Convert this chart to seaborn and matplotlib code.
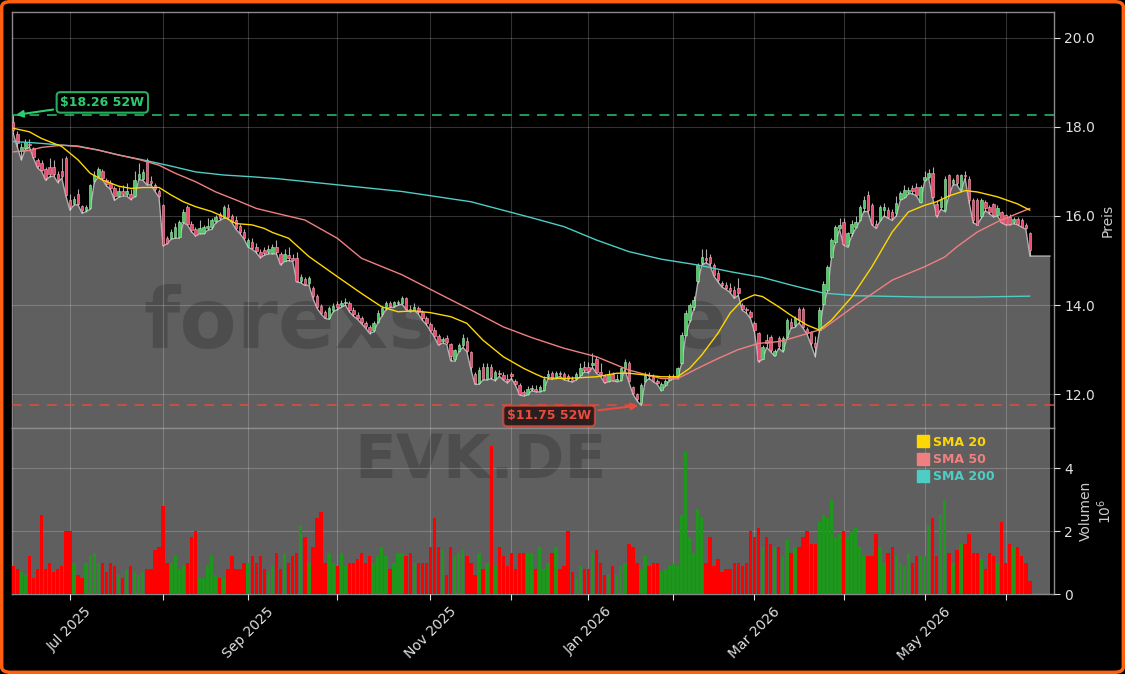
import numpy as np
import pandas as pd
import matplotlib
matplotlib.use("Agg")
import matplotlib.pyplot as plt
import seaborn as sns
from matplotlib.patches import FancyBboxPatch
from matplotlib.lines import Line2D

sns.set_theme(style="dark")
plt.rcParams["font.family"] = ["DejaVu Sans"]

# ---------------- data ----------------
start_date = "2025-06-11"
holidays = ["2025-12-24", "2025-12-25", "2025-12-26", "2025-12-31",
            "2026-01-01", "2026-04-03", "2026-04-06", "2026-05-01"]

open_ = [18.10,17.85,17.45,17.52,17.62,17.52,17.25,17.20,17.05,17.10,
         17.10,16.95,17.00,17.30,16.35,16.30,16.50,16.22,16.13,16.18,
         16.78,16.90,17.00,16.80,16.75,16.62,16.45,16.55,16.50,16.50,
         16.45,16.85,16.82,17.25,16.78,16.70,16.55,16.25,15.50,15.50,
         15.53,15.53,15.87,16.20,15.83,15.70,15.62,15.62,15.72,15.75,
         15.88,16.05,15.98,16.18,16.00,15.90,15.78,15.65,15.32,15.42,
         15.30,15.20,15.23,15.20,15.18,15.30,15.15,15.00,15.12,15.05,
         15.05,14.55,14.58,14.50,14.38,14.20,13.98,13.85,13.72,13.88,
         14.02,14.00,14.05,14.05,13.90,13.78,13.72,13.60,13.50,13.45,
         13.62,13.80,13.95,14.05,13.98,14.05,14.05,14.15,13.92,13.90,
         13.93,13.85,13.70,13.58,13.45,13.30,13.20,13.26,13.12,12.80,
         12.98,13.10,13.20,12.95,12.45,12.25,12.62,12.35,12.62,12.35,
         12.48,12.42,12.35,12.45,12.30,12.20,12.05,12.00,12.12,12.12,
         12.08,12.10,12.40,12.47,12.38,12.47,12.45,12.40,12.35,12.35,
         12.42,12.60,12.60,12.65,12.78,12.50,12.40,12.30,12.45,12.30,
         12.32,12.58,12.70,12.15,12.00,11.80,12.30,12.42,12.38,12.30,
         12.10,12.20,12.32,12.38,12.38,12.70,13.33,13.66,13.96,14.53,
         14.94,15.05,15.09,14.90,14.71,14.49,14.45,14.38,14.34,14.38,
         14.00,13.92,13.85,13.60,13.37,12.80,13.22,13.28,12.88,13.26,
         13.00,13.29,13.62,13.55,13.92,13.92,13.47,13.40,13.14,13.44,
         14.03,14.33,15.08,15.42,15.72,15.87,15.35,15.61,15.75,15.91,
         16.17,16.47,16.24,15.83,15.91,16.13,16.13,16.09,16.06,16.39,
         16.43,16.54,16.62,16.66,16.32,16.81,16.88,16.96,16.28,16.20,
         16.13,16.92,16.73,16.92,16.60,16.92,16.84,16.36,16.36,16.00,
         16.32,16.20,16.28,16.02,16.09,16.02,15.98,15.86,15.94,15.90,
         15.80,15.61]
high = [18.26,17.90,17.65,17.72,17.72,17.55,17.30,17.25,17.10,17.30,
        17.25,17.00,17.30,17.35,16.50,16.45,16.60,16.25,16.25,16.72,
        17.00,17.10,17.05,16.85,16.80,16.68,16.65,16.70,16.75,16.60,
        17.00,17.20,17.05,17.30,16.90,16.75,16.60,16.28,15.55,15.70,
        15.85,15.90,16.15,16.25,15.88,15.75,15.90,15.80,15.95,15.95,
        16.02,16.10,16.25,16.28,16.05,16.00,15.82,15.70,15.50,15.50,
        15.40,15.25,15.30,15.35,15.38,15.45,15.20,15.25,15.30,15.15,
        15.20,14.70,14.62,14.65,14.42,14.25,14.02,13.90,13.98,14.05,
        14.10,14.12,14.15,14.10,13.95,13.85,13.75,13.65,13.55,13.65,
        13.88,13.98,14.10,14.10,14.10,14.12,14.20,14.18,14.00,14.05,
        13.98,13.90,13.75,13.62,13.50,13.35,13.28,13.32,13.15,13.02,
        13.15,13.35,13.28,12.98,12.50,12.60,12.70,12.70,12.68,12.55,
        12.55,12.50,12.45,12.50,12.35,12.25,12.10,12.18,12.20,12.20,
        12.20,12.40,12.55,12.52,12.52,12.52,12.50,12.45,12.40,12.50,
        12.70,12.75,12.72,12.92,12.85,12.70,12.45,12.55,12.50,12.45,
        12.62,12.78,12.75,12.18,12.02,12.25,12.50,12.50,12.45,12.35,
        12.28,12.35,12.45,12.45,12.62,13.40,13.88,14.05,14.20,14.95,
        15.25,15.25,15.15,14.95,14.78,14.55,14.52,14.50,14.42,14.60,
        14.05,13.95,13.90,13.65,13.40,13.10,13.35,13.32,13.02,13.30,
        13.30,13.70,13.70,13.75,13.95,13.95,13.50,13.42,13.30,13.95,
        14.55,14.90,15.50,15.80,15.95,15.95,15.65,15.90,16.00,16.25,
        16.45,16.55,16.30,15.90,16.25,16.30,16.20,16.15,16.45,16.55,
        16.70,16.65,16.70,16.75,16.70,17.00,17.05,17.10,16.35,16.45,
        16.90,16.95,16.85,16.95,16.95,17.00,16.90,16.40,16.40,16.40,
        16.35,16.25,16.30,16.25,16.12,16.05,16.05,15.98,15.98,15.95,
        15.85,15.65]
low = [17.85,17.55,17.26,17.50,17.55,17.30,17.08,17.00,16.80,16.88,
       16.90,16.75,16.85,16.45,16.13,16.25,16.25,16.06,16.10,16.15,
       16.75,16.88,16.82,16.68,16.60,16.35,16.42,16.45,16.45,16.37,
       16.43,16.82,16.80,16.70,16.70,16.55,16.42,15.33,15.38,15.48,
       15.50,15.50,15.85,15.80,15.65,15.55,15.60,15.60,15.68,15.70,
       15.85,15.90,15.95,15.95,15.85,15.70,15.60,15.48,15.30,15.25,
       15.18,15.06,15.12,15.15,15.15,15.15,14.90,14.98,15.00,14.98,
       14.52,14.50,14.44,14.45,14.15,13.93,13.80,13.70,13.68,13.85,
       13.90,13.95,14.00,13.85,13.75,13.68,13.58,13.48,13.36,13.40,
       13.60,13.75,13.90,13.95,13.95,14.00,14.02,13.90,13.85,13.88,
       13.80,13.66,13.56,13.42,13.28,13.10,13.15,13.12,12.75,12.74,
       12.95,13.05,12.95,12.55,12.22,12.22,12.32,12.32,12.35,12.30,
       12.40,12.32,12.25,12.35,12.20,11.98,11.96,11.98,12.08,12.05,
       12.05,12.08,12.35,12.33,12.35,12.40,12.32,12.30,12.27,12.32,
       12.40,12.50,12.48,12.60,12.47,12.40,12.25,12.28,12.30,12.28,
       12.30,12.55,12.27,12.00,11.85,11.75,12.28,12.35,12.28,12.22,
       12.08,12.18,12.30,12.35,12.35,12.68,13.30,13.62,13.90,14.50,
       14.90,14.95,14.90,14.65,14.52,14.40,14.35,14.28,14.15,14.22,
       13.88,13.82,13.70,13.40,12.72,12.78,13.05,12.95,12.85,13.03,
       12.95,13.25,13.48,13.50,13.60,13.48,13.34,13.10,12.84,13.40,
       14.00,14.30,15.05,15.40,15.70,15.35,15.30,15.55,15.72,15.88,
       16.10,16.10,15.80,15.72,15.88,16.00,15.95,15.90,16.00,16.35,
       16.40,16.50,16.50,16.45,16.30,16.78,16.85,16.40,15.98,16.15,
       16.10,16.45,16.70,16.70,16.55,16.85,16.30,15.85,15.80,15.95,
       16.12,16.05,15.98,16.00,15.85,15.80,15.80,15.83,15.80,15.75,
       15.70,15.10]
close = [17.92,17.65,17.56,17.67,17.60,17.33,17.12,17.03,16.85,16.95,
         16.95,16.80,16.90,16.48,16.22,16.38,16.28,16.13,16.20,16.70,
         16.92,17.05,16.85,16.72,16.62,16.45,16.55,16.50,16.55,16.40,
         16.80,16.95,16.98,16.73,16.73,16.60,16.45,15.35,15.40,15.65,
         15.75,15.87,16.10,15.83,15.68,15.58,15.72,15.75,15.78,15.90,
         15.98,15.95,16.20,15.98,15.88,15.72,15.65,15.50,15.45,15.28,
         15.22,15.10,15.16,15.25,15.30,15.20,14.95,15.15,15.05,15.02,
         14.55,14.64,14.47,14.60,14.20,13.96,13.82,13.74,13.93,13.98,
         13.95,14.05,14.08,13.90,13.80,13.72,13.62,13.52,13.42,13.60,
         13.82,13.93,14.05,13.98,14.06,14.07,14.15,13.92,13.88,13.95,
         13.85,13.70,13.60,13.45,13.30,13.12,13.24,13.18,12.85,12.99,
         13.10,13.25,12.98,12.60,12.25,12.55,12.35,12.62,12.38,12.50,
         12.45,12.35,12.30,12.40,12.22,12.00,12.00,12.12,12.14,12.08,
         12.15,12.35,12.45,12.37,12.48,12.45,12.35,12.35,12.30,12.45,
         12.58,12.55,12.52,12.70,12.50,12.45,12.28,12.45,12.32,12.35,
         12.58,12.72,12.30,12.03,11.88,12.20,12.42,12.40,12.30,12.25,
         12.22,12.30,12.38,12.40,12.58,13.33,13.82,14.00,14.11,14.90,
         15.09,15.01,14.94,14.68,14.56,14.45,14.38,14.32,14.20,14.26,
         13.92,13.88,13.74,13.44,12.77,13.05,13.15,12.99,12.98,13.07,
         13.25,13.66,13.51,13.70,13.66,13.51,13.38,13.14,13.05,13.88,
         14.48,14.86,15.46,15.76,15.79,15.38,15.61,15.83,15.87,16.21,
         16.36,16.13,15.83,15.76,16.21,16.21,15.98,15.95,16.30,16.51,
         16.58,16.58,16.55,16.48,16.66,16.88,16.96,16.43,16.02,16.39,
         16.84,16.47,16.81,16.73,16.92,16.90,16.35,15.90,15.80,16.36,
         16.17,16.09,16.02,16.17,15.87,15.83,15.83,15.94,15.83,15.76,
         15.72,15.23]
volume_m = [0.9,0.8,0.7,0.6,1.2,0.5,0.8,2.5,0.8,1.0,
            0.7,0.8,0.9,2.0,2.0,1.0,0.6,0.5,1.0,1.2,
            1.3,1.0,1.0,0.7,1.0,0.9,0.6,0.5,0.8,0.9,
            0.7,0.6,0.7,0.8,0.8,1.4,1.5,2.8,1.0,1.0,
            1.2,0.8,0.9,1.0,1.8,2.0,0.5,0.5,0.9,1.2,
            0.6,0.5,0.5,0.8,1.2,0.8,0.8,1.0,1.0,1.2,
            1.0,1.2,0.8,0.7,0.9,1.3,0.8,1.3,1.0,1.2,
            1.3,2.2,1.8,1.0,1.5,2.4,2.6,1.0,1.3,1.0,
            0.9,1.3,0.9,1.0,1.0,1.1,1.3,1.0,1.2,1.0,
            1.2,1.5,1.2,0.8,1.0,1.3,1.3,1.2,1.3,1.0,
            1.0,1.0,1.0,1.5,2.4,1.5,1.4,0.6,1.5,1.2,
            1.3,1.4,1.2,1.0,0.6,1.3,0.8,1.0,4.7,0.9,
            1.5,1.2,0.9,1.3,0.8,1.3,1.3,1.3,1.3,0.8,
            1.5,0.8,1.0,1.3,1.5,0.8,0.9,2.0,0.7,0.5,
            0.9,0.8,0.8,1.3,1.4,1.0,0.6,0.6,0.9,0.6,
            0.9,1.0,1.6,1.5,1.0,0.8,1.2,0.9,1.0,1.0,
            0.7,0.8,0.9,1.0,0.9,2.5,4.5,1.8,1.3,2.7,
            2.4,1.0,1.8,0.9,1.1,0.7,0.8,0.8,1.0,1.0,
            0.9,1.0,2.0,1.8,2.1,1.5,1.8,1.6,1.5,1.5,
            1.2,1.7,1.3,1.5,1.5,1.8,2.0,1.6,1.6,2.3,
            2.5,2.4,3.0,1.8,1.9,2.0,1.8,2.0,2.1,1.5,
            1.2,1.2,1.2,1.9,1.5,1.0,1.3,1.5,1.2,1.0,
            0.9,1.3,1.0,1.2,1.2,1.2,2.2,2.4,1.2,2.5,
            3.0,1.3,1.0,1.4,1.6,1.6,1.9,1.3,1.3,1.1,
            0.8,1.3,1.2,1.0,2.3,1.0,1.6,1.5,1.5,1.2,
            1.0,0.4]

# moving averages (trading-day index, value)
sma20_day = [0,4,7,12,16,19,22,26,29,32,36,39,42,45,49,52,55,59,62,64,
             68,73,80,86,91,95,99,103,108,112,116,121,126,129,131,136,144,149,152,156,
             160,164,167,170,174,177,180,183,185,189,192,196,199,202,207,212,217,221,225,228,
             231,235,238,243,248,251]
sma20_val = [17.97,17.89,17.74,17.56,17.26,16.96,16.81,16.67,16.62,16.64,
             16.64,16.47,16.32,16.21,16.10,15.98,15.83,15.80,15.72,15.63,
             15.50,15.09,14.64,14.26,13.96,13.85,13.87,13.83,13.74,13.59,
             13.21,12.84,12.58,12.45,12.37,12.35,12.39,12.47,12.47,12.43,
             12.39,12.39,12.58,12.88,13.37,13.82,14.11,14.23,14.19,13.96,
             13.77,13.55,13.44,13.66,14.18,14.86,15.64,16.09,16.24,16.32,
             16.45,16.57,16.54,16.43,16.27,16.13]
sma50_day = [0,4,7,12,16,21,26,31,36,40,45,50,55,60,65,72,80,86,96,105,
             113,121,128,136,144,152,160,164,169,174,179,184,189,192,200,208,217,225,230,233,
             238,243,248,251]
sma50_val = [17.44,17.47,17.54,17.59,17.56,17.48,17.37,17.27,17.14,16.96,
             16.77,16.54,16.36,16.17,16.06,15.91,15.50,15.05,14.68,14.26,
             13.89,13.51,13.27,13.03,12.84,12.54,12.35,12.35,12.58,12.80,
             13.00,13.14,13.18,13.25,13.47,14.00,14.56,14.86,15.08,15.31,
             15.64,15.87,16.06,16.17]
sma200_day = [0,4,7,12,16,21,26,32,39,45,52,59,65,80,96,113,128,136,144,152,
              160,169,177,185,192,200,208,225,237,251]
sma200_val = [17.67,17.65,17.63,17.59,17.57,17.48,17.37,17.26,17.12,16.99,
              16.92,16.88,16.84,16.70,16.55,16.32,15.96,15.76,15.46,15.20,
              15.03,14.90,14.75,14.62,14.45,14.27,14.21,14.18,14.18,14.20]

high_52w = 18.26
low_52w = 11.75
ticker = "EVK.DE"
watermark = "forexsignale"

# ---------------- build frame ----------------
n = len(close)
future = 5
days = pd.bdate_range(start_date, periods=n + future + 20)
days = days[~days.isin(pd.to_datetime(holidays))][: n + future]
df = pd.DataFrame({"x": np.arange(n), "date": days[:n], "open": open_, "high": high,
                   "low": low, "close": close, "vol": volume_m})
up = df["close"] >= df["open"]

UP_C, DN_C = "#4fc765", "#ea4a6e"
UP_E, DN_E = "#a8efb4", "#ffa8bb"
VUP, VDN = "#1f971f", "#ff0000"
FILL = "#5f5f5f"
C20, C50, C200 = "#FFD700", "#F08080", "#4ECDC4"
GREEN_A, RED_A = "#2ecc71", "#e74c3c"

W, H = 1125, 674
fig = plt.figure(figsize=(W / 100, H / 100), dpi=100, facecolor="black")
ax = fig.add_axes([12 / W, 1 - 428 / H, 1042 / W, 416 / H])
axv = fig.add_axes([12 / W, 1 - 594 / H, 1042 / W, 166 / H], sharex=ax)

xlim = (-0.3, n + future - 0.05)
for a in (ax, axv):
    a.set_facecolor("black")
    for s in a.spines.values():
        s.set_color("#8a8a8a")
        s.set_linewidth(1.0)
    a.grid(True, color="white", alpha=0.2, lw=0.8)
    a.set_axisbelow(False)
    a.yaxis.tick_right()
    a.yaxis.set_label_position("right")
    a.tick_params(colors="#e0e0e0", labelsize=10, length=4, width=0.8,
                  direction="out", right=True, bottom=True, left=False)

# price area (filled below the lows, carried forward past the last bar)
xf = np.arange(n + future)
lowf = pd.Series(low + [np.nan] * future).ffill().values
ax.fill_between(xf, lowf, 0, color=FILL, zorder=1, lw=0)
sns.lineplot(x=xf, y=lowf, ax=ax, color="#b0b0b0", lw=1.0, zorder=2)

# watermark
ax.text(0.406, 0.25, watermark, transform=ax.transAxes, fontsize=60, fontweight="bold",
        color="black", alpha=0.18, ha="center", va="center", zorder=1.5)

# candles
ax.vlines(df["x"], df["low"], df["high"], color="#d8d8d8", lw=0.8, alpha=0.8, zorder=3)
body = (df["close"] - df["open"]).abs().clip(lower=0.02)
ax.bar(df["x"], body, bottom=df[["open", "close"]].min(axis=1), width=0.62,
       color=np.where(up, UP_C, DN_C), edgecolor=np.where(up, UP_E, DN_E),
       linewidth=0.4, zorder=4)

# SMAs
sns.lineplot(x=sma200_day, y=sma200_val, ax=ax, color=C200, lw=1.0, zorder=5)
sns.lineplot(x=sma50_day, y=sma50_val, ax=ax, color=C50, lw=1.0, zorder=5)
sns.lineplot(x=sma20_day, y=sma20_val, ax=ax, color=C20, lw=1.0, zorder=5)

# 52 week lines and labels
ax.axhline(high_52w, color=GREEN_A, ls=(0, (5, 4)), lw=1.4, alpha=0.75, zorder=5)
ax.axhline(low_52w, color=RED_A, ls=(0, (5, 4)), lw=1.4, alpha=0.75, zorder=5)
i_hi = int(np.argmax(high))
i_lo = int(np.argmin(low))
ax.annotate(f"${high_52w:.2f} 52W", xy=(i_hi, high_52w), xytext=(22, 18.55),
            color=GREEN_A, fontsize=9, fontweight="bold", ha="center", va="center",
            bbox=dict(boxstyle="round,pad=0.3", fc="black", ec=GREEN_A, lw=1.5, alpha=0.85),
            arrowprops=dict(arrowstyle="-|>", color=GREEN_A, lw=1.5, mutation_scale=10),
            zorder=8)
ax.annotate(f"${low_52w:.2f} 52W", xy=(i_lo, low_52w), xytext=(132.3, 11.51),
            color=RED_A, fontsize=9, fontweight="bold", ha="center", va="center",
            bbox=dict(boxstyle="round,pad=0.3", fc="#1a0808", ec=RED_A, lw=1.5, alpha=0.75),
            arrowprops=dict(arrowstyle="-|>", color=RED_A, lw=1.5, mutation_scale=10),
            zorder=8)

ax.set_xlim(*xlim)
ax.set_ylim(11.24, 20.58)
ax.set_yticks([12, 14, 16, 18, 20])
ax.set_yticklabels([f"{v:.1f}" for v in [12, 14, 16, 18, 20]])
ax.set_ylabel("Preis", color="#cccccc", fontsize=10)
ax.tick_params(axis="x", labelbottom=False, length=0)

# volume panel
axv.axvspan(xlim[0], xf[-1], color=FILL, lw=0, zorder=0)
axv.text(0.45, 0.80, ticker, transform=axv.transAxes, fontsize=44, fontweight="bold",
         color="black", alpha=0.18, ha="center", va="center", zorder=1)
axv.bar(df["x"], df["vol"], width=0.82, color=np.where(up, VUP, VDN), lw=0, zorder=3)
axv.set_ylim(0, 5.27)
axv.set_yticks([0, 2, 4])
axv.set_ylabel("Volumen\n$10^{6}$", color="#cccccc", fontsize=10)

# monthly ticks
month_first = df.groupby(df["date"].dt.to_period("M"))["x"].min()
month_first = month_first[month_first.index > month_first.index[0]]
axv.set_xticks(month_first.values)
axv.set_xticklabels([p.strftime("%b %Y") if p.month % 2 == 1 else "" for p in month_first.index],
                    rotation=45, ha="center")
axv.set_xlim(*xlim)

handles = [Line2D([], [], marker="s", ls="none", color=c, markersize=8)
           for c in (C20, C50, C200)]
leg = axv.legend(handles, ["SMA 20", "SMA 50", "SMA 200"], loc="upper left",
                 bbox_to_anchor=(0.862, 1.0), frameon=False, handlelength=0.8,
                 handletextpad=0.4, labelspacing=0.35, borderaxespad=0.2,
                 prop={"weight": "bold", "size": 9})
for t, c in zip(leg.get_texts(), (C20, C50, C200)):
    t.set_color(c)

fig.patches.append(FancyBboxPatch((0.0015, 0.0025), 0.997, 0.995,
                                  boxstyle="round,pad=0,rounding_size=0.008",
                                  transform=fig.transFigure, fill=False,
                                  edgecolor="#ff5f0f", lw=2.5))

fig.savefig("out.png", dpi=100, facecolor="black")
